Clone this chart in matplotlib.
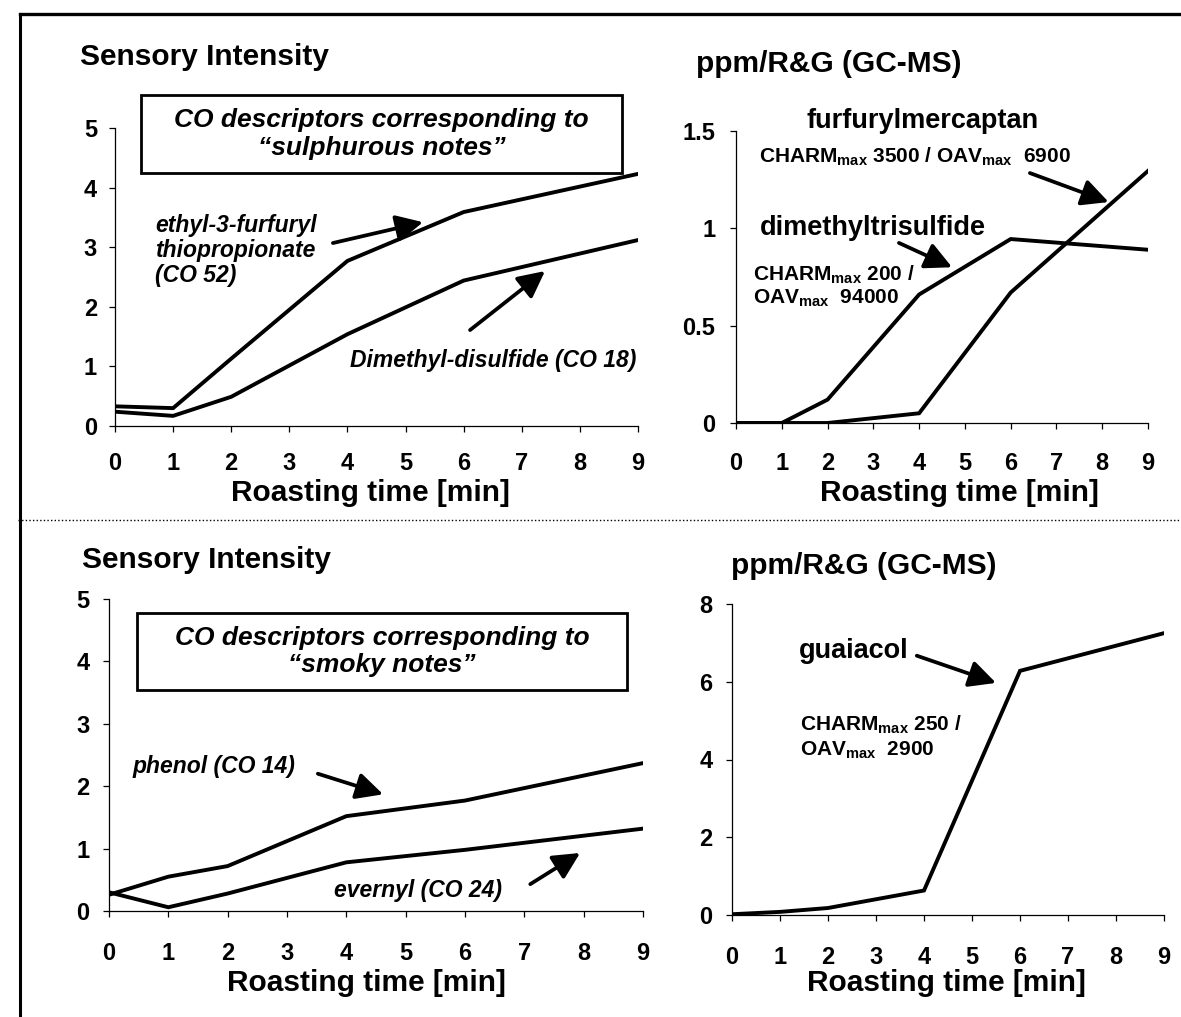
import matplotlib.pyplot as plt
from matplotlib.lines import Line2D
from matplotlib.patches import Rectangle

plt.rcParams['font.family'] = ['Liberation Sans', 'DejaVu Sans']
plt.rcParams['font.weight'] = 'bold'
plt.rcParams['mathtext.fontset'] = 'custom'
plt.rcParams['mathtext.rm'] = 'Liberation Sans:bold'
plt.rcParams['mathtext.bf'] = 'Liberation Sans:bold'

W, H = 1181, 1017

# roasting time [min] of the samples
roast_t = [0, 1, 2, 4, 6, 9]
xticks = [0, 1, 2, 3, 4, 5, 6, 7, 8, 9]

# sulphurous notes: sensory intensity
ethyl_furfuryl = [0.33, 0.30, 1.13, 2.77, 3.59, 4.23]
dimethyl_disulfide = [0.24, 0.17, 0.49, 1.54, 2.44, 3.12]
# sulphurous notes: ppm/R&G (GC-MS)
dimethyltrisulfide = [0.0, 0.0, 0.12, 0.66, 0.945, 0.89]
furfurylmercaptan = [0.0, 0.0, 0.0, 0.05, 0.67, 1.295]
# smoky notes: sensory intensity
phenol = [0.26, 0.55, 0.72, 1.52, 1.77, 2.37]
evernyl = [0.30, 0.06, 0.28, 0.78, 0.98, 1.32]
# smoky notes: ppm/R&G (GC-MS)
guaiacol = [0.02, 0.08, 0.18, 0.63, 6.28, 7.25]

sens_ticks = [0, 1, 2, 3, 4, 5]
sulf_ticks = [0, 0.5, 1, 1.5]
sulf_ticklabels = ['0', '0.5', '1', '1.5']
guai_ticks = [0, 2, 4, 6, 8]


def fx(x):
    return x / W


def fy(y):
    return 1 - y / H


def make_ax(fig, left, top, right, bottom):
    return fig.add_axes([fx(left), fy(bottom), (right - left) / W, (bottom - top) / H])


def style_ax(ax, ymax, xpad, ypad):
    ax.set_xlim(0, 9)
    ax.set_ylim(0, ymax)
    ax.set_xticks(xticks)
    for s in ['top', 'right']:
        ax.spines[s].set_visible(False)
    for s in ['left', 'bottom']:
        ax.spines[s].set_linewidth(0.9)
    ax.tick_params(axis='x', length=4, width=0.9, labelsize=17, pad=xpad)
    ax.tick_params(axis='y', length=4, width=0.9, labelsize=17, pad=ypad)
    ax.patch.set_visible(False)


def arrow(ax, start, end):
    ax.annotate('', xy=end, xytext=start, annotation_clip=False,
                arrowprops=dict(arrowstyle='-|>,head_length=0.6,head_width=0.3',
                                mutation_scale=27, lw=2.7, color='black',
                                shrinkA=0, shrinkB=0))


LW = 2.8
fig = plt.figure(figsize=(W / 100, H / 100), dpi=100)

# outer frame and separator
fig.add_artist(Line2D([fx(20), fx(W)], [fy(14), fy(14)], color='black', lw=2.4))
fig.add_artist(Line2D([fx(20), fx(20)], [fy(14), fy(H)], color='black', lw=2.2))
fig.add_artist(Line2D([fx(18), fx(W)], [fy(520), fy(520)], color='black', lw=1.0,
                      linestyle=(0, (1, 1.6))))

# ---- top left: sulphurous, sensory
ax1 = make_ax(fig, 115, 128, 638, 426)
ax1.plot(roast_t, ethyl_furfuryl, color='black', lw=LW, solid_joinstyle='miter')
ax1.plot(roast_t, dimethyl_disulfide, color='black', lw=LW, solid_joinstyle='miter')
style_ax(ax1, 5, 15, 9)
ax1.set_yticks(sens_ticks)
ax1.text(0.69, 2.95, 'ethyl-3-furfuryl\nthiopropionate\n(CO 52)', fontsize=16.5,
         style='italic', ha='left', va='center', linespacing=1.12)
arrow(ax1, (3.75, 3.07), (5.3, 3.42))
ax1.text(8.98, 1.1, 'Dimethyl-disulfide (CO 18)', fontsize=16.5, style='italic',
         ha='right', va='center')
arrow(ax1, (6.11, 1.61), (7.4, 2.6))

# ---- top right: sulphurous, GC-MS
ax2 = make_ax(fig, 736, 131, 1148, 423)
ax2.plot(roast_t, dimethyltrisulfide, color='black', lw=LW, solid_joinstyle='miter')
ax2.plot(roast_t, furfurylmercaptan, color='black', lw=LW, solid_joinstyle='miter')
style_ax(ax2, 1.5, 17, 11)
ax2.set_yticks(sulf_ticks)
ax2.set_yticklabels(sulf_ticklabels)
ax2.text(4.08, 1.55, 'furfurylmercaptan', fontsize=19.5, ha='center', va='center')
ax2.text(3.91, 1.366, r'CHARM$_{\mathbf{max}}$ 3500 / OAV$_{\mathbf{max}}$  6900',
         fontsize=15, ha='center', va='center')
arrow(ax2, (6.42, 1.284), (8.14, 1.135))
ax2.text(2.99, 1.0, 'dimethyltrisulfide', fontsize=19.5, ha='center', va='center')
arrow(ax2, (3.56, 0.925), (4.72, 0.80))
ax2.text(0.37, 0.76, r'CHARM$_{\mathbf{max}}$ 200 /', fontsize=15, ha='left', va='center')
ax2.text(0.37, 0.64, r'OAV$_{\mathbf{max}}$  94000', fontsize=15, ha='left', va='center')

# ---- bottom left: smoky, sensory
ax3 = make_ax(fig, 109, 599, 643, 911)
ax3.plot(roast_t, phenol, color='black', lw=LW, solid_joinstyle='miter')
ax3.plot(roast_t, evernyl, color='black', lw=LW, solid_joinstyle='miter')
style_ax(ax3, 5, 18, 10)
ax3.set_yticks(sens_ticks)
ax3.text(0.4, 2.32, 'phenol (CO 14)', fontsize=16.5, style='italic', ha='left', va='center')
arrow(ax3, (3.52, 2.2), (4.62, 1.87))
ax3.text(3.79, 0.335, 'evernyl (CO 24)', fontsize=16.5, style='italic', ha='left', va='center')
arrow(ax3, (7.1, 0.43), (7.94, 0.93))

# ---- bottom right: smoky, GC-MS
ax4 = make_ax(fig, 732, 604, 1164, 915)
ax4.plot(roast_t, guaiacol, color='black', lw=LW, solid_joinstyle='miter')
style_ax(ax4, 8, 18, 10)
ax4.set_yticks(guai_ticks)
ax4.text(1.4, 6.8, 'guaiacol', fontsize=19.5, ha='left', va='center')
arrow(ax4, (3.85, 6.67), (5.5, 5.97))
ax4.text(1.42, 4.9, r'CHARM$_{\mathbf{max}}$ 250 /', fontsize=15, ha='left', va='center')
ax4.text(1.42, 4.23, r'OAV$_{\mathbf{max}}$  2900', fontsize=15, ha='left', va='center')

# panel titles and axis labels
for x, y, s in [(80, 57, 'Sensory Intensity'), (82, 560, 'Sensory Intensity'),
                (696, 64, 'ppm/R&G (GC-MS)'), (731, 566, 'ppm/R&G (GC-MS)')]:
    fig.text(fx(x), fy(y), s, fontsize=21.5, ha='left', va='center')
for x, y in [(370, 493), (959, 493), (366, 983), (946, 983)]:
    fig.text(fx(x), fy(y), 'Roasting time [min]', fontsize=21.5, ha='center', va='center')

# descriptor boxes
for (l, t, r, b), note in [((141, 95, 622, 173), '\u201csulphurous notes\u201d'),
                           ((137, 613, 627, 690), '\u201csmoky notes\u201d')]:
    fig.add_artist(Rectangle((fx(l), fy(b)), (r - l) / W, (b - t) / H,
                             transform=fig.transFigure, fill=False,
                             edgecolor='black', lw=2.0))
    fig.text(fx((l + r) / 2), fy((t + b) / 2), 'CO descriptors corresponding to\n' + note,
             fontsize=19, style='italic', ha='center', va='center', linespacing=1.2)

fig.savefig('out.png', dpi=100, facecolor='white')
